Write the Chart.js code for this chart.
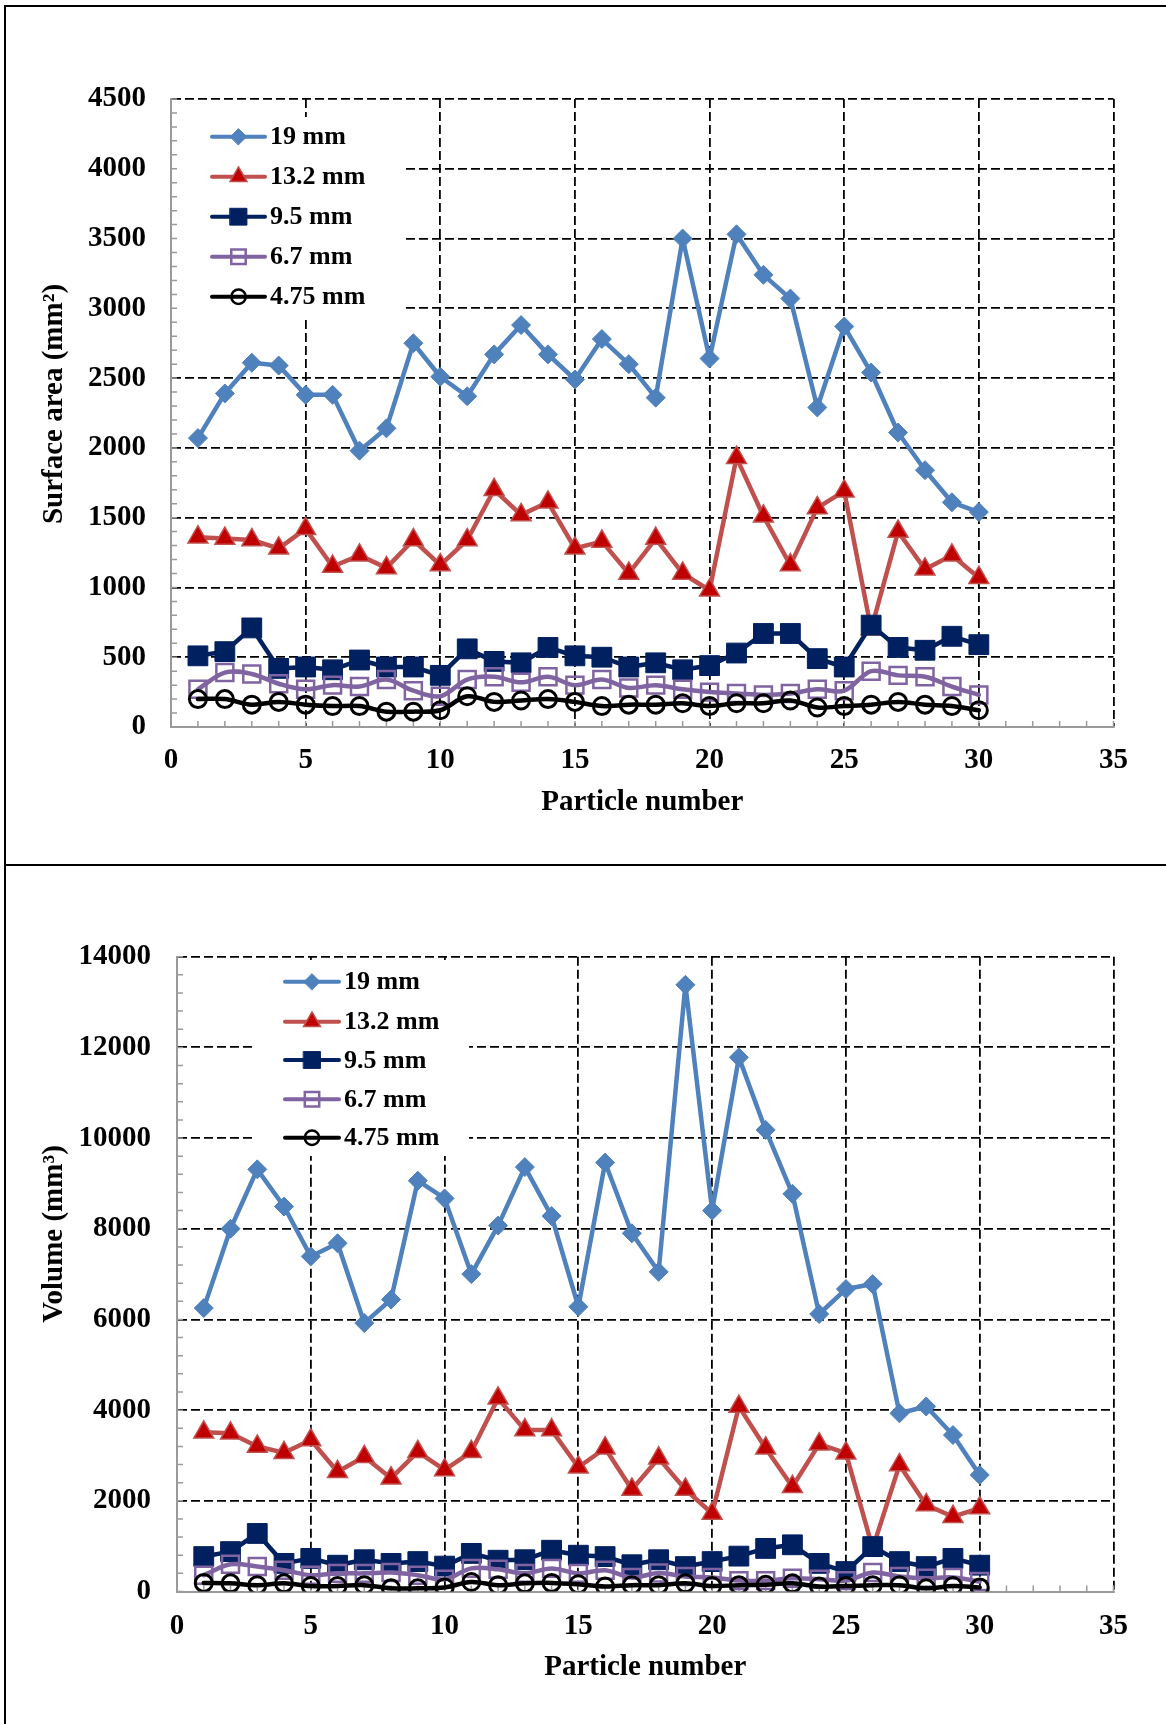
<!DOCTYPE html>
<html>
<head>
<meta charset="utf-8">
<script src="https://cdn.jsdelivr.net/npm/chart.js@4.4.1/dist/chart.umd.min.js"></script>
<style>
  html, body { margin: 0; padding: 0; background: #fff; }
  #page { position: relative; width: 1166px; height: 1724px; overflow: hidden; background: #fff; }
  #page canvas { position: absolute; left: 0; }
  .rule { position: absolute; background: #000; z-index: 2; }
</style>
</head>
<body>
<div id="page">
  <canvas id="areaChart" width="1166" height="865" style="top:0"></canvas>
  <canvas id="volumeChart" width="1166" height="859" style="top:865px"></canvas>
  <div class="rule" style="left:4px;top:5px;width:1162px;height:2px"></div>
  <div class="rule" style="left:4px;top:5px;width:2px;height:1719px"></div>
  <div class="rule" style="left:4px;top:864px;width:1162px;height:2px"></div>
</div>
<script>
// ---- data ---------------------------------------------------------------
const particleNumbers = [1, 2, 3, 4, 5, 6, 7, 8, 9, 10, 11, 12, 13, 14, 15,
                         16, 17, 18, 19, 20, 21, 22, 23, 24, 25, 26, 27, 28, 29, 30];
const seriesLabels = ['19 mm', '13.2 mm', '9.5 mm', '6.7 mm', '4.75 mm'];

// surface area, mm²
const area19  = [2070, 2390, 2610, 2590, 2380, 2380, 1980, 2140, 2750, 2510, 2370, 2670, 2880, 2670, 2490,
                 2780, 2600, 2360, 3500, 2640, 3530, 3240, 3070, 2290, 2870, 2540, 2110, 1840, 1610, 1540];
const area13  = [1360, 1350, 1340, 1280, 1420, 1150, 1230, 1140, 1340, 1160, 1340, 1700, 1520, 1610, 1280,
                 1330, 1100, 1350, 1100, 980, 1930, 1510, 1160, 1570, 1690, 700, 1400, 1130, 1230, 1070];
const area95  = [510, 540, 710, 420, 430, 410, 480, 430, 430, 370, 560, 470, 460, 570, 510,
                 500, 430, 460, 410, 440, 530, 670, 670, 490, 430, 730, 570, 550, 650, 590];
const area67  = [270, 390, 380, 310, 270, 300, 290, 340, 260, 220, 340, 360, 320, 360, 300,
                 340, 280, 300, 270, 250, 240, 230, 240, 270, 260, 400, 370, 360, 290, 230];
const area475 = [200, 200, 160, 180, 160, 150, 150, 110, 110, 120, 220, 180, 190, 200, 180,
                 150, 160, 160, 170, 150, 170, 170, 190, 140, 150, 160, 180, 160, 150, 120];

// volume, mm³
const vol19  = [6250, 8000, 9310, 8490, 7390, 7680, 5920, 6440, 9060, 8670, 7000, 8070, 9360, 8280, 6280,
                9460, 7900, 7050, 13380, 8400, 11780, 10180, 8770, 6120, 6670, 6780, 3930, 4080, 3450, 2570];
const vol13  = [3510, 3490, 3200, 3060, 3340, 2640, 2970, 2500, 3080, 2680, 3080, 4260, 3560, 3560, 2740,
                3160, 2250, 2940, 2250, 1720, 4080, 3160, 2310, 3250, 3050, 950, 2790, 1910, 1650, 1840];
const vol95  = [770, 880, 1280, 620, 730, 580, 700, 620, 660, 560, 840, 690, 700, 910, 800,
                770, 590, 700, 550, 660, 780, 950, 1030, 620, 440, 990, 660, 550, 730, 580];
const vol67  = [360, 600, 550, 470, 360, 400, 400, 420, 360, 270, 510, 490, 400, 510, 400,
                470, 310, 410, 330, 310, 240, 240, 290, 270, 240, 420, 330, 290, 310, 220];
const vol475 = [190, 180, 140, 180, 120, 120, 140, 70, 70, 90, 210, 140, 180, 190, 160,
                110, 140, 140, 180, 120, 140, 150, 180, 110, 120, 140, 140, 70, 120, 90];

// axis tick values
const xTickValues = [0, 5, 10, 15, 20, 25, 30, 35];
const areaTickValues = [0, 500, 1000, 1500, 2000, 2500, 3000, 3500, 4000, 4500];
const volumeTickValues = [0, 2000, 4000, 6000, 8000, 10000, 12000, 14000];

// ---- styling --------------------------------------------------------------
const SERIF = "'Liberation Serif', 'Times New Roman', Times, serif";
const seriesStyles = [
  { line: '#4F81BD', fill: '#4F81BD', edge: '#4F81BD', point: 'rectRot',  radius: 9.5,  edgeWidth: 1,   tension: 0 },
  { line: '#C0504D', fill: '#C00000', edge: '#C0504D', point: 'triangle', radius: 11.5, edgeWidth: 1.5, tension: 0 },
  { line: '#002060', fill: '#002060', edge: '#002060', point: 'rect',     radius: 14,   edgeWidth: 1,   tension: 0 },
  { line: '#8064A2', fill: 'rgba(255,255,255,0)', edge: '#8064A2', point: 'rect',   radius: 12,  edgeWidth: 2.5, tension: 0.35 },
  { line: '#000000', fill: 'rgba(255,255,255,0)', edge: '#000000', point: 'circle', radius: 8.5, edgeWidth: 3,   tension: 0.35 }
];

function markerFallback(ctx, style, r, x, y) {
  ctx.beginPath();
  if (style === 'circle') ctx.arc(x, y, r, 0, Math.PI * 2);
  else if (style === 'rect') { const h = r * Math.SQRT1_2; ctx.rect(x - h, y - h, 2 * h, 2 * h); }
  else if (style === 'rectRot') { ctx.moveTo(x - r, y); ctx.lineTo(x, y - r); ctx.lineTo(x + r, y); ctx.lineTo(x, y + r); ctx.closePath(); }
  else if (style === 'triangle') { ctx.moveTo(x, y - r); ctx.lineTo(x + 0.866 * r, y + r / 2); ctx.lineTo(x - 0.866 * r, y + r / 2); ctx.closePath(); }
  ctx.fill();
  ctx.stroke();
}

// white legend panel, inward minor ticks, legend entries and the rotated value-axis title
const panelDecor = {
  id: 'panelDecor',
  beforeDatasetsDraw(chart, args, opts) {
    const { ctx, chartArea, scales: { x, y } } = chart;
    const L = opts.legend;
    ctx.save();
    ctx.fillStyle = '#ffffff';
    ctx.fillRect(L.box[0], L.box[1], L.box[2] - L.box[0], L.box[3] - L.box[1]);
    ctx.strokeStyle = '#9a9a9a';
    ctx.lineWidth = 1.5;
    ctx.beginPath();
    for (let v = y.min; v <= y.max + 1e-6; v += opts.yMinor) {
      const p = y.getPixelForValue(v);
      ctx.moveTo(chartArea.left, p);
      ctx.lineTo(chartArea.left + 6, p);
    }
    for (let v = x.min; v <= x.max + 1e-6; v += opts.xMinor) {
      const p = x.getPixelForValue(v);
      ctx.moveTo(p, chartArea.bottom);
      ctx.lineTo(p, chartArea.bottom - 6);
    }
    ctx.stroke();
    ctx.restore();
  },
  afterDatasetsDraw(chart, args, opts) {
    const { ctx } = chart;
    const L = opts.legend;
    const helpers = Chart.helpers;
    ctx.save();
    chart.data.datasets.forEach((ds, i) => {
      const yRow = L.rows[i];
      ctx.strokeStyle = ds.borderColor;
      ctx.lineWidth = 4;
      ctx.lineCap = 'round';
      ctx.beginPath();
      ctx.moveTo(L.line[0], yRow);
      ctx.lineTo(L.line[1], yRow);
      ctx.stroke();
      const cx = (L.line[0] + L.line[1]) / 2;
      const r = ds.pointRadius * 0.85;
      ctx.fillStyle = ds.pointBackgroundColor;
      ctx.strokeStyle = ds.pointBorderColor;
      ctx.lineWidth = Math.min(ds.pointBorderWidth, 2.5);
      if (helpers && helpers.drawPoint) {
        helpers.drawPoint(ctx, { pointStyle: ds.pointStyle, radius: r, rotation: 0, borderWidth: ctx.lineWidth }, cx, yRow);
      } else {
        markerFallback(ctx, ds.pointStyle, r, cx, yRow);
      }
      ctx.fillStyle = '#000';
      ctx.font = 'bold 26px ' + SERIF;
      ctx.textAlign = 'left';
      ctx.textBaseline = 'middle';
      ctx.fillText(ds.label, L.textX, yRow + 1);
    });
    ctx.restore();
  },
  afterDraw(chart, args, opts) {
    const { ctx } = chart;
    const t = opts.yTitle;
    ctx.save();
    ctx.translate(t.x, t.y);
    ctx.rotate(-Math.PI / 2);
    ctx.fillStyle = '#000';
    ctx.font = 'bold 29px ' + SERIF;
    ctx.textAlign = 'center';
    ctx.textBaseline = 'middle';
    ctx.fillText(t.text, 0, 0);
    ctx.restore();
  }
};

function buildChart(canvasId, cfg) {
  const datasets = cfg.series.map((values, i) => {
    const s = seriesStyles[i];
    return {
      label: seriesLabels[i],
      data: values.map((v, k) => ({ x: particleNumbers[k], y: v })),
      borderColor: s.line,
      borderWidth: 4.5,
      borderJoinStyle: 'round',
      borderCapStyle: 'round',
      tension: s.tension,
      fill: false,
      pointStyle: s.point,
      pointRadius: s.radius,
      pointHoverRadius: s.radius,
      pointBackgroundColor: s.fill,
      pointBorderColor: s.edge,
      pointBorderWidth: s.edgeWidth,
      order: seriesLabels.length - i
    };
  });

  const tickFont = { family: SERIF, size: 29, weight: 'bold' };
  const gridColor = (c) => (c.tick && c.tick.value === 0 ? 'rgba(0,0,0,0)' : '#000');

  return new Chart(document.getElementById(canvasId), {
    type: 'line',
    data: { datasets },
    plugins: [panelDecor],
    options: {
      responsive: false,
      animation: false,
      events: [],
      layout: { padding: { top: cfg.padTop, right: cfg.padRight, left: 0, bottom: 0 } },
      plugins: {
        legend: { display: false },
        tooltip: { enabled: false },
        panelDecor: cfg.decor
      },
      scales: {
        x: {
          type: 'linear',
          min: 0,
          max: 35,
          afterBuildTicks: (scale) => { scale.ticks = xTickValues.map((value) => ({ value })); },
          afterFit: (scale) => { scale.height = cfg.xAxisHeight; },
          ticks: { font: tickFont, color: '#000', padding: cfg.xTickPad, maxRotation: 0, autoSkip: false,
                   callback: (v) => String(v) },
          grid: { color: gridColor, lineWidth: 1.8, drawTicks: false },
          border: { display: true, color: '#9a9a9a', width: 2, dash: [9, 4] },
          title: { display: true, text: 'Particle number', color: '#000',
                   font: { family: SERIF, size: 29, weight: 'bold' }, padding: { top: 0, bottom: cfg.xTitlePad } }
        },
        y: {
          type: 'linear',
          min: cfg.yTicks[0],
          max: cfg.yTicks[cfg.yTicks.length - 1],
          afterBuildTicks: (scale) => { scale.ticks = cfg.yTicks.map((value) => ({ value })); },
          afterFit: (scale) => { scale.width = cfg.yAxisWidth; },
          ticks: { font: tickFont, color: '#000', padding: cfg.yTickPad, autoSkip: false,
                   callback: (v) => String(v) },
          grid: { color: gridColor, lineWidth: 1.8, drawTicks: false },
          border: { display: true, color: '#9a9a9a', width: 2, dash: [9, 4] }
        }
      }
    }
  });
}

buildChart('areaChart', {
  series: [area19, area13, area95, area67, area475],
  yTicks: areaTickValues,
  padTop: 99,
  padRight: 52.5,
  xAxisHeight: 138,
  yAxisWidth: 171,
  xTickPad: 16,
  yTickPad: 25,
  xTitlePad: 44.6,
  decor: {
    yMinor: 100,
    xMinor: 1,
    legend: { box: [172, 117, 402, 316], line: [212, 265], textX: 270,
              rows: [136.7, 176.7, 216.7, 256.7, 296.7] },
    yTitle: { text: 'Surface area (mm²)', x: 55, y: 404 }
  }
});

buildChart('volumeChart', {
  series: [vol19, vol13, vol95, vol67, vol475],
  yTicks: volumeTickValues,
  padTop: 91.7,
  padRight: 52.5,
  xAxisHeight: 132.5,
  yAxisWidth: 177,
  xTickPad: 17.5,
  yTickPad: 26,
  xTitlePad: 38.6,
  decor: {
    yMinor: 400,
    xMinor: 1,
    legend: { box: [256, 95, 469, 291], line: [285, 339], textX: 344,
              rows: [116.7, 156.7, 195, 234.3, 272.7] },
    yTitle: { text: 'Volume (mm³)', x: 55, y: 369 }
  }
});
</script>
</body>
</html>
